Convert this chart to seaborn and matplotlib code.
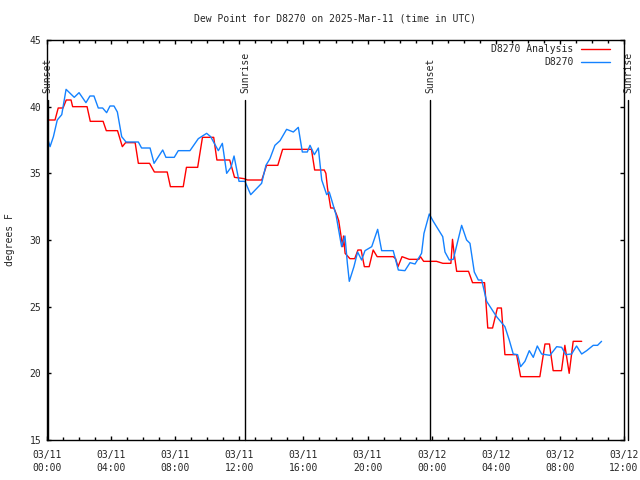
import pandas as pd
import numpy as np
import matplotlib
matplotlib.use("Agg")
import matplotlib.pyplot as plt
import matplotlib.dates as mdates
import seaborn as sns

# hours after 2025-03-11 00:00 UTC
red_hours = [0.0, 0.5, 0.7, 1.0, 1.2, 1.5, 1.6, 2.5, 2.7, 3.5, 3.7, 4.4, 4.7, 4.9, 5.5, 5.7, 6.4, 6.7,
             7.5, 7.7, 8.5, 8.7, 9.4, 9.7, 10.4, 10.6, 11.4, 11.7, 12.3, 12.5, 13.4, 13.7, 14.4, 14.7,
             16.5, 16.7, 17.3, 17.4, 17.5, 17.7, 17.9, 18.1, 18.2, 18.35, 18.45, 18.5, 18.6, 18.9, 19.2,
             19.4, 19.6, 19.8, 20.1, 20.35, 20.6, 21.6, 21.75, 21.9, 22.15, 22.6, 23.2, 23.3, 23.5, 24.3,
             24.7, 25.2, 25.3, 25.4, 25.56, 26.3, 26.55, 27.3, 27.5, 27.8, 28.1, 28.35, 28.57, 29.3,
             29.55, 30.75, 31.07, 31.35, 31.58, 32.1, 32.31, 32.58, 32.83, 33.36]
red_vals = [39.0, 39.0, 39.9, 39.9, 40.5, 40.5, 40.0, 40.0, 38.9, 38.9, 38.2, 38.2, 37.0, 37.3, 37.3,
            35.75, 35.75, 35.1, 35.1, 34.0, 34.0, 35.45, 35.45, 37.7, 37.7, 36.0, 36.0, 34.7, 34.6, 34.5,
            34.5, 35.6, 35.6, 36.8, 36.8, 35.25, 35.25, 35.0, 33.9, 32.4, 32.4, 31.8, 31.45, 30.25, 29.5,
            30.3, 29.0, 28.6, 28.6, 29.25, 29.25, 28.0, 28.0, 29.25, 28.75, 28.75, 28.6, 28.0, 28.75,
            28.55, 28.55, 28.75, 28.4, 28.4, 28.25, 28.25, 30.05, 29.0, 27.65, 27.65, 26.8, 26.8, 23.4,
            23.4, 24.9, 24.9, 21.4, 21.4, 19.75, 19.75, 22.2, 22.2, 20.2, 20.2, 22.1, 20.0, 22.4, 22.4]

blue_hours = [0.0, 0.19, 0.4, 0.64, 0.92, 1.19, 1.7, 2.0, 2.43, 2.68, 2.93, 3.2, 3.47, 3.72, 3.93, 4.18,
              4.39, 4.66, 4.93, 5.7, 5.9, 6.43, 6.68, 7.22, 7.42, 7.94, 8.19, 8.92, 9.44, 9.96, 10.21,
              10.69, 10.94, 11.21, 11.48, 11.67, 11.98, 12.35, 12.71, 13.39, 13.66, 13.91, 14.22, 14.54,
              14.95, 15.37, 15.68, 15.93, 16.24, 16.41, 16.68, 16.93, 17.14, 17.45, 17.61, 17.76, 18.03,
              18.38, 18.59, 18.74, 18.86, 19.15, 19.38, 19.63, 19.84, 20.26, 20.63, 20.88, 21.6, 21.92,
              22.33, 22.65, 22.96, 23.37, 23.52, 23.85, 24.1, 24.69, 24.83, 25.1, 25.35, 25.87, 26.18,
              26.39, 26.66, 26.91, 27.12, 27.43, 28.05, 28.57, 28.84, 29.09, 29.36, 29.55, 29.82, 30.09,
              30.34, 30.59, 30.86, 31.38, 31.8, 32.11, 32.36, 32.73, 33.04, 33.36, 33.67, 34.08, 34.35, 34.6]
blue_vals = [37.75, 37.0, 37.75, 39.0, 39.4, 41.3, 40.7, 41.05, 40.3, 40.8, 40.8, 39.9, 39.9, 39.55, 40.05,
             40.05, 39.6, 37.75, 37.35, 37.35, 36.9, 36.9, 35.75, 36.75, 36.2, 36.2, 36.7, 36.7, 37.6, 38.0,
             37.75, 36.7, 37.25, 35.0, 35.45, 36.3, 34.4, 34.4, 33.4, 34.25, 35.6, 36.1, 37.1, 37.45, 38.3,
             38.1, 38.45, 36.6, 36.6, 37.1, 36.4, 36.9, 34.5, 33.4, 33.6, 33.0, 31.9, 29.5, 30.3, 28.25,
             26.9, 28.0, 29.1, 28.5, 29.2, 29.5, 30.8, 29.2, 29.2, 27.75, 27.7, 28.3, 28.2, 29.0, 30.5,
             31.95, 31.4, 30.25, 29.1, 28.5, 28.55, 31.1, 30.0, 29.75, 27.6, 27.0, 27.0, 25.4, 24.25, 23.5,
             22.5, 21.45, 21.4, 20.5, 20.9, 21.7, 21.2, 22.05, 21.45, 21.35, 22.0, 21.95, 21.4, 21.45, 22.05,
             21.45, 21.7, 22.1, 22.1, 22.4]

sun_hours = [0.05, 12.35, 23.9, 36.25]
sun_labels = ["Sunset", "Sunrise", "Sunset", "Sunrise"]

base = pd.Timestamp("2025-03-11 00:00")
red_df = pd.DataFrame({"time": base + pd.to_timedelta(red_hours, unit="h"), "dewpoint": red_vals})
blue_df = pd.DataFrame({"time": base + pd.to_timedelta(blue_hours, unit="h"), "dewpoint": blue_vals})

sns.set_style("ticks")
plt.rcParams["font.family"] = ["DejaVu Sans Mono", "DejaVu Sans"]
plt.rcParams["font.size"] = 7

fig = plt.figure(figsize=(6.4, 4.8), dpi=100)
ax = fig.add_axes([47 / 640, 40 / 480, 577 / 640, 400 / 480])

sns.lineplot(data=red_df, x="time", y="dewpoint", ax=ax, color="#ff0000", lw=1.0,
             estimator=None, sort=False, label="D8270 Analysis")
sns.lineplot(data=blue_df, x="time", y="dewpoint", ax=ax, color="#1482ff", lw=1.0,
             estimator=None, sort=False, label="D8270")

# sunrise / sunset markers
for h, lab in zip(sun_hours, sun_labels):
    t = base + pd.Timedelta(hours=h)
    ax.plot([t, t], [15, 40.5], color="black", lw=1.0, clip_on=False)
    ax.text(t, 41.05, lab, rotation=90, ha="center", va="bottom", fontsize=7, clip_on=False)

ax.set_xlim(base, base + pd.Timedelta(hours=36))
ax.set_ylim(15, 45)
ax.set_yticks(np.arange(15, 46, 5))
ax.xaxis.set_major_locator(mdates.HourLocator(byhour=[0, 4, 8, 12, 16, 20]))
ax.xaxis.set_minor_locator(mdates.HourLocator())
ax.xaxis.set_major_formatter(mdates.DateFormatter("%m/%d\n%H:%M"))

ax.tick_params(which="both", direction="in", top=True, right=True, labelsize=7, color="black")
ax.tick_params(which="major", length=3, width=1)
ax.tick_params(which="minor", length=2, width=1)
ax.tick_params(axis="x", which="major", pad=7)
ax.tick_params(axis="y", which="major", pad=4)
for lbl in ax.get_xticklabels():
    lbl.set_linespacing(1.45)
for sp in ax.spines.values():
    sp.set_color("black")
    sp.set_linewidth(1.0)

ax.set_xlabel("")
ax.set_ylabel("degrees F", fontsize=7)
ax.yaxis.set_label_coords(-0.056, 0.5)
ax.set_title("Dew Point for D8270 on 2025-Mar-11 (time in UTC)", fontsize=7, pad=13)

ax.legend(loc="upper right", bbox_to_anchor=(0.975, 0.99), frameon=False, markerfirst=False,
          fontsize=7, handlelength=2.9, handletextpad=0.8, labelspacing=0.35, borderpad=0,
          borderaxespad=0)

fig.savefig("out.png", dpi=100)
